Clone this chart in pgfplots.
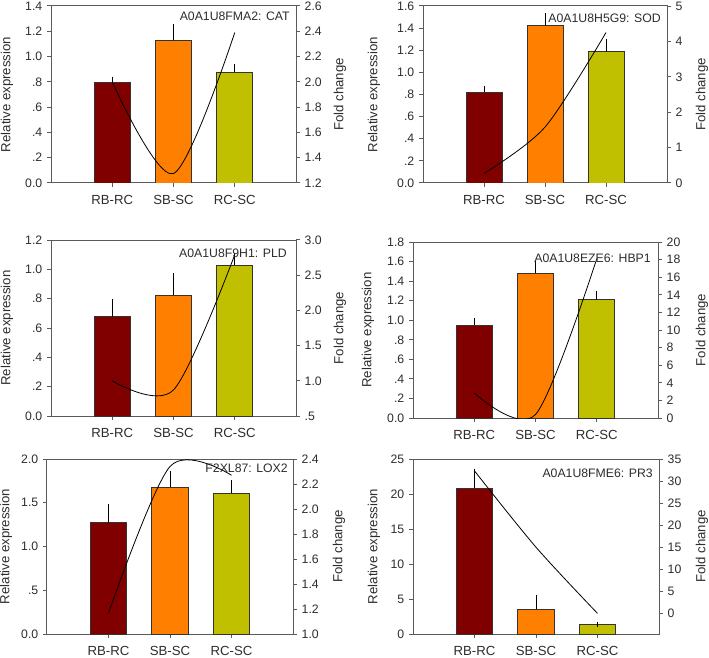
\documentclass[border=0pt]{standalone}
\usepackage{pgfplots}
\pgfplotsset{compat=1.18}
\usepackage{fontspec}
\setmainfont{Liberation Sans}
\setsansfont{Liberation Sans}
\definecolor{cRB}{RGB}{128,0,0}
\definecolor{cSB}{RGB}{255,128,0}
\definecolor{cRC}{RGB}{192,192,0}
\definecolor{axc}{RGB}{90,90,90}
\definecolor{txc}{RGB}{45,45,45}
\newlength{\px}\setlength{\px}{0.75pt}
\newcommand{\numfont}{\fontsize{9.2}{10}\selectfont}
\newcommand{\catfont}{\fontsize{9.9}{11}\selectfont}
\tikzset{lab/.style={anchor=east, inner sep=0pt, font=\fontsize{9.2}{10}\selectfont, text=txc}}
\pgfplotsset{
  base/.style={
    scale only axis, anchor=south west,
    xmin=-1, xmax=3,
    /pgf/number format/assume math mode=true,
    tick align=outside, major tick length=4\px,
    axis line style={axc, line width=0.75pt},
    tick style={axc, line width=0.75pt},
    yticklabel style={font=\numfont, text=txc},
    xticklabel style={font=\catfont, text=txc, yshift=-4\px},
    ylabel style={font=\catfont, text=txc, anchor=center},
  },
  lax/.style={base, xtick={0,1,2}, xticklabels={RB-RC,SB-SC,RC-SC}, xtick pos=left, ytick pos=left, ylabel={Relative expression}},
  rax/.style={base, axis y line*=right, axis x line=none, ylabel={Fold change}},
  mybar/.style={ybar, bar shift=0pt, bar width=0.59, draw=black!80, line width=0.6pt, fill=#1,
     error bars/.cd, y dir=plus, y explicit, error bar style={black, line width=0.75pt}, error mark options={black, line width=0.75pt, mark size=1.8pt}},
  fc/.style={smooth, tension=0.5, black, line width=0.6pt, mark=none},
}
\begin{document}
\begin{tikzpicture}
\useasboundingbox (0,0) rectangle (709\px,657\px);
% ---------------- Panel 1: CAT
\begin{axis}[lax, at={(51\px,474\px)}, width=245\px, height=177\px,
  ymin=0, ymax=1.4, ytick={0,0.2,0.4,0.6,0.8,1.0,1.2,1.4},
  yticklabels={0.0,.2,.4,.6,.8,1.0,1.2,1.4},
  ylabel style={at={(rel axis cs:-0.1796,0.5)}}]
\addplot[mybar=cRB] coordinates {(0,0.798) +- (0,0.024)};
\addplot[mybar=cSB] coordinates {(1,1.131) +- (0,0.105)};
\addplot[mybar=cRC] coordinates {(2,0.875) +- (0,0.044)};
\end{axis}
\begin{axis}[rax, at={(51\px,474\px)}, width=245\px, height=177\px,
  ymin=1.2, ymax=2.6, ytick={1.2,1.4,1.6,1.8,2.0,2.2,2.4,2.6},
  yticklabels={1.2,1.4,1.6,1.8,2.0,2.2,2.4,2.6},
  ylabel style={at={(rel axis cs:1.1796,0.5)}}]
\addplot[fc] coordinates {(0,2.0) (1,1.275) (2,2.39)};
\node[lab, xshift=-6\px, yshift=-10\px] at (rel axis cs:1,1) {A0A1U8FMA2: CAT};
\end{axis}
% ---------------- Panel 2: SOD
\begin{axis}[lax, at={(423\px,474\px)}, width=244\px, height=177\px,
  ymin=0, ymax=1.6, ytick={0,0.2,0.4,0.6,0.8,1.0,1.2,1.4,1.6},
  yticklabels={0.0,.2,.4,.6,.8,1.0,1.2,1.4,1.6},
  ylabel style={at={(rel axis cs:-0.2008,0.5)}}]
\addplot[mybar=cRB] coordinates {(0,0.819) +- (0,0.036)};
\addplot[mybar=cSB] coordinates {(1,1.422) +- (0,0.091)};
\addplot[mybar=cRC] coordinates {(2,1.187) +- (0,0.090)};
\end{axis}
\begin{axis}[rax, at={(423\px,474\px)}, width=244\px, height=177\px,
  ymin=0, ymax=5, ytick={0,1,2,3,4,5},
  yticklabels={0,1,2,3,4,5},
  ylabel style={at={(rel axis cs:1.1434,0.5)}}]
\addplot[fc] coordinates {(0,0.27) (1,1.58) (2,4.25)};
\node[lab, xshift=-6\px, yshift=-12\px] at (rel axis cs:1,1) {A0A1U8H5G9: SOD};
\end{axis}
% ---------------- Panel 3: PLD
\begin{axis}[lax, at={(51\px,241\px)}, width=245\px, height=176\px,
  ymin=0, ymax=1.2, ytick={0,0.2,0.4,0.6,0.8,1.0,1.2},
  yticklabels={0.0,.2,.4,.6,.8,1.0,1.2},
  ylabel style={at={(rel axis cs:-0.1796,0.5)}}]
\addplot[mybar=cRB] coordinates {(0,0.676) +- (0,0.102)};
\addplot[mybar=cSB] coordinates {(1,0.823) +- (0,0.136)};
\addplot[mybar=cRC] coordinates {(2,1.030) +- (0,0.063)};
\end{axis}
\begin{axis}[rax, at={(51\px,241\px)}, width=245\px, height=176\px,
  ymin=0.5, ymax=3.0, ytick={0.5,1.0,1.5,2.0,2.5,3.0},
  yticklabels={.5,1.0,1.5,2.0,2.5,3.0},
  ylabel style={at={(rel axis cs:1.1796,0.5)}}]
\addplot[fc] coordinates {(0,1.0) (1,0.87) (2,2.79)};
\node[lab, xshift=-9\px, yshift=-13\px] at (rel axis cs:1,1) {A0A1U8F9H1: PLD};
\end{axis}
% ---------------- Panel 4: HBP1
\begin{axis}[lax, at={(413\px,239\px)}, width=245\px, height=176\px,
  ymin=0, ymax=1.8, ytick={0,0.2,0.4,0.6,0.8,1.0,1.2,1.4,1.6,1.8},
  yticklabels={0.0,.2,.4,.6,.8,1.0,1.2,1.4,1.6,1.8},
  ylabel style={at={(rel axis cs:-0.1837,0.5)}}]
\addplot[mybar=cRB] coordinates {(0,0.949) +- (0,0.048)};
\addplot[mybar=cSB] coordinates {(1,1.483) +- (0,0.095)};
\addplot[mybar=cRC] coordinates {(2,1.211) +- (0,0.068)};
\end{axis}
\begin{axis}[rax, at={(413\px,239\px)}, width=245\px, height=176\px,
  ymin=0, ymax=20, ytick={0,2,4,6,8,10,12,14,16,18,20},
  yticklabels={0,2,4,6,8,10,12,14,16,18,20},
  ylabel style={at={(rel axis cs:1.1796,0.5)}}]
\addplot[fc] coordinates {(0,2.84) (1,0.4) (2,18.1)};
\node[lab, xshift=-7\px, yshift=-16\px] at (rel axis cs:1,1) {A0A1U8EZE6: HBP1};
\end{axis}
% ---------------- Panel 5: LOX2
\begin{axis}[lax, at={(47\px,23\px)}, width=246\px, height=175\px,
  ymin=0, ymax=2.0, ytick={0,0.5,1.0,1.5,2.0},
  yticklabels={0.0,.5,1.0,1.5,2.0},
  ylabel style={at={(rel axis cs:-0.1667,0.5)}}]
\addplot[mybar=cRB] coordinates {(0,1.271) +- (0,0.190)};
\addplot[mybar=cSB] coordinates {(1,1.677) +- (0,0.156)};
\addplot[mybar=cRC] coordinates {(2,1.612) +- (0,0.115)};
\end{axis}
\begin{axis}[rax, at={(47\px,23\px)}, width=246\px, height=175\px,
  ymin=1.0, ymax=2.4, ytick={1.0,1.2,1.4,1.6,1.8,2.0,2.2,2.4},
  yticklabels={1.0,1.2,1.4,1.6,1.8,2.0,2.2,2.4},
  ylabel style={at={(rel axis cs:1.187,0.5)}}]
\addplot[fc] coordinates {(0,1.167) (1,2.34) (2,2.27)};
\node[lab, xshift=-5\px, yshift=-9\px] at (rel axis cs:1,1) {F2XL87: LOX2};
\end{axis}
% ---------------- Panel 6: PR3
\begin{axis}[lax, at={(413\px,23\px)}, width=246\px, height=175\px,
  ymin=0, ymax=25, ytick={0,5,10,15,20,25},
  yticklabels={0,5,10,15,20,25},
  ylabel style={at={(rel axis cs:-0.1585,0.5)}}]
\addplot[mybar=cRB] coordinates {(0,20.8) +- (0,2.5)};
\addplot[mybar=cSB] coordinates {(1,3.53) +- (0,1.71)};
\addplot[mybar=cRC] coordinates {(2,1.38) +- (0,0)};
\end{axis}
\begin{axis}[rax, at={(413\px,23\px)}, width=246\px, height=175\px,
  ymin=-4.67, ymax=35, ytick={0,5,10,15,20,25,30,35},
  yticklabels={0,5,10,15,20,25,30,35},
  ylabel style={at={(rel axis cs:1.1748,0.5)}}]
\addplot[fc] coordinates {(0,32.3) (1,15.0) (2,0.0)};
\node[lab, xshift=-6\px, yshift=-14\px] at (rel axis cs:1,1) {A0A1U8FME6: PR3};
\end{axis}
\end{tikzpicture}
\end{document}
